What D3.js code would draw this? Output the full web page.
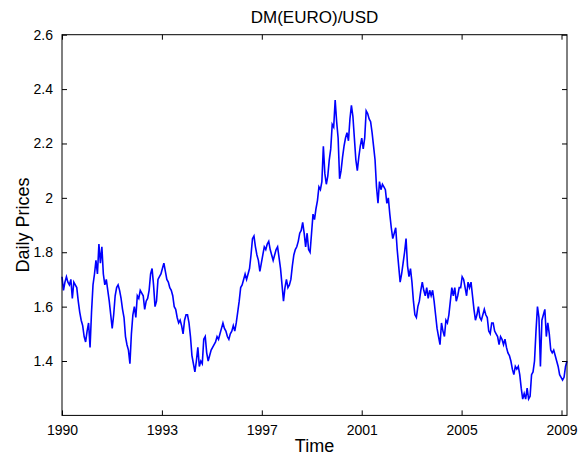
<!DOCTYPE html>
<html><head><meta charset="utf-8">
<script src="https://cdn.jsdelivr.net/npm/d3@7"></script>
<style>
body{margin:0;background:#fff;}
text{font-family:"Liberation Sans",Arial,Helvetica,sans-serif;fill:#000;}
</style></head>
<body>
<svg id="chart" width="579" height="464"></svg>
<script>
// ---- data ----
const title = "DM(EURO)/USD";
const xLabel = "Time";
const yLabel = "Daily Prices";
const totalDays = 5055;
const xTickDays = [0, 1000, 2000, 3000, 4000, 5000];
const xTickLabels = ["1990", "1993", "1997", "2001", "2005", "2009"];
const yTicks = [1.4, 1.6, 1.8, 2.0, 2.2, 2.4, 2.6];
const yRange = [1.2, 2.6];
// sampled daily prices (equal spacing across the trading days)
const prices = [
1.71,1.66,1.69,1.71,1.69,1.68,1.70,1.63,1.69,1.68,1.67,1.62,1.58,1.55,1.53,1.49,1.47,1.51,1.54,1.45,
1.58,1.68,1.72,1.77,1.72,1.83,1.76,1.82,1.72,1.68,1.70,1.66,1.62,1.57,1.52,1.57,1.64,1.67,1.68,1.66,
1.63,1.59,1.56,1.49,1.46,1.44,1.39,1.50,1.57,1.60,1.56,1.64,1.63,1.66,1.65,1.64,1.59,1.62,1.63,1.66,
1.72,1.74,1.68,1.60,1.62,1.70,1.71,1.72,1.74,1.76,1.73,1.70,1.69,1.67,1.66,1.64,1.60,1.59,1.56,1.54,
1.55,1.53,1.50,1.55,1.57,1.57,1.54,1.49,1.42,1.39,1.36,1.40,1.45,1.38,1.40,1.39,1.48,1.49,1.43,1.40,
1.42,1.44,1.45,1.46,1.47,1.49,1.48,1.50,1.52,1.54,1.52,1.51,1.49,1.48,1.50,1.51,1.53,1.51,1.54,1.58,
1.62,1.67,1.68,1.70,1.72,1.70,1.72,1.74,1.79,1.85,1.86,1.82,1.79,1.77,1.73,1.76,1.79,1.82,1.81,1.83,
1.84,1.81,1.79,1.77,1.79,1.81,1.82,1.78,1.74,1.68,1.62,1.67,1.70,1.67,1.68,1.70,1.75,1.79,1.81,1.82,
1.84,1.87,1.88,1.91,1.87,1.82,1.87,1.81,1.80,1.87,1.94,1.92,1.96,1.99,2.04,2.03,2.06,2.19,2.09,2.05,
2.08,2.14,2.18,2.27,2.26,2.36,2.28,2.22,2.07,2.10,2.15,2.19,2.22,2.24,2.21,2.29,2.34,2.30,2.22,2.14,
2.10,2.15,2.19,2.22,2.18,2.22,2.32,2.31,2.29,2.28,2.24,2.19,2.14,2.04,1.98,2.06,2.03,2.05,2.04,2.03,
1.98,2.00,1.94,1.89,1.85,1.87,1.89,1.81,1.75,1.69,1.72,1.76,1.80,1.85,1.75,1.71,1.74,1.69,1.62,1.57,
1.56,1.60,1.62,1.66,1.69,1.66,1.64,1.67,1.63,1.66,1.64,1.66,1.62,1.57,1.52,1.49,1.46,1.54,1.51,1.49,
1.55,1.54,1.57,1.62,1.67,1.64,1.67,1.62,1.64,1.67,1.67,1.71,1.70,1.67,1.64,1.69,1.67,1.69,1.64,1.59,
1.55,1.57,1.60,1.56,1.55,1.57,1.59,1.57,1.56,1.51,1.50,1.54,1.54,1.51,1.50,1.49,1.46,1.49,1.48,1.46,
1.48,1.45,1.43,1.42,1.40,1.37,1.35,1.38,1.37,1.38,1.35,1.30,1.26,1.28,1.26,1.30,1.26,1.27,1.35,1.36,
1.40,1.51,1.60,1.56,1.38,1.55,1.57,1.59,1.49,1.54,1.50,1.44,1.43,1.44,1.42,1.40,1.38,1.35,1.34,1.33,
1.34,1.38,1.40
];

// ---- layout ----
const svg = d3.select("#chart");
const m = {left: 62, top: 34.7, right: 567, bottom: 415.4};
const x = d3.scaleLinear().domain([0, totalDays]).range([m.left, m.right]);
const y = d3.scaleLinear().domain(yRange).range([m.bottom, m.top]);
const step = totalDays / (prices.length - 1);
const series = prices.map((p, i) => ({d: i * step, p}));

svg.append("rect").attr("width", 579).attr("height", 464).attr("fill", "#fff");

// line
svg.append("path").datum(series)
  .attr("fill", "none").attr("stroke", "#0000ff").attr("stroke-width", 1.6)
  .attr("stroke-linejoin", "miter")
  .attr("d", d3.line().x(d => x(d.d)).y(d => y(d.p)));

// box
svg.append("rect").attr("x", m.left).attr("y", m.top)
  .attr("width", m.right - m.left).attr("height", m.bottom - m.top)
  .attr("fill", "none").attr("stroke", "#000").attr("stroke-width", 1);

const tickLen = 5;
const fmtTick = (i) => xTickLabels[xTickDays.indexOf(i)];
// bottom axis
const xAxis = d3.axisBottom(x).tickValues(xTickDays).tickFormat(fmtTick)
  .tickSizeInner(-tickLen).tickSizeOuter(0).tickPadding(10);
const gx = svg.append("g").attr("transform", `translate(0,${m.bottom})`).call(xAxis);
// top ticks
const gxt = svg.append("g").attr("transform", `translate(0,${m.top})`)
  .call(d3.axisTop(x).tickValues(xTickDays).tickFormat("").tickSizeInner(-tickLen).tickSizeOuter(0));
// left axis
const yAxis = d3.axisLeft(y).tickValues(yTicks).tickFormat(d => d === 2 ? "2" : d3.format(".1f")(d))
  .tickSizeInner(-tickLen).tickSizeOuter(0).tickPadding(9);
const gy = svg.append("g").attr("transform", `translate(${m.left},0)`).call(yAxis);
// right ticks
const gyr = svg.append("g").attr("transform", `translate(${m.right},0)`)
  .call(d3.axisRight(y).tickValues(yTicks).tickFormat("").tickSizeInner(-tickLen).tickSizeOuter(0));

[gx, gxt, gy, gyr].forEach(g => {
  g.select(".domain").remove();
  g.selectAll("line").attr("stroke", "#000");
  g.selectAll("text").attr("font-size", 14).attr("font-family", '"Liberation Sans",Arial,sans-serif').attr("fill", "#000");
});

// title & labels
svg.append("text").attr("x", (m.left + m.right) / 2).attr("y", 23)
  .attr("text-anchor", "middle").attr("font-size", 17).text(title);
svg.append("text").attr("x", (m.left + m.right) / 2).attr("y", 452)
  .attr("text-anchor", "middle").attr("font-size", 18).text(xLabel);
svg.append("text").attr("transform", `translate(29,${(m.top + m.bottom) / 2}) rotate(-90)`)
  .attr("text-anchor", "middle").attr("font-size", 18).text(yLabel);
</script>
</body></html>
